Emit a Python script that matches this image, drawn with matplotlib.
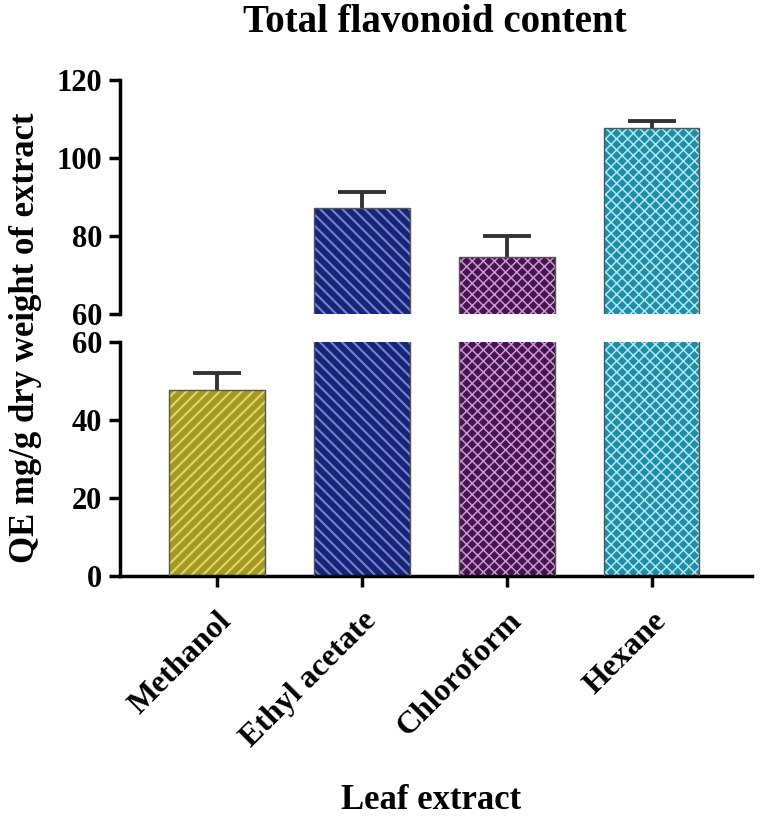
import matplotlib
matplotlib.use("Agg")
import matplotlib.pyplot as plt
import numpy as np

categories = ["Methanol", "Ethyl acetate", "Chloroform", "Hexane"]
values = [47.8, 87.2, 74.6, 107.6]
errors = [4.2, 4.1, 5.4, 1.9]

base_colors = ["#a49a1c", "#17247a", "#4a1254", "#1d8ea8"]
hatch_colors = ["#dcd67a", "#7484c8", "#c49ccc", "#b2e6ee"]
hatches = ["///", "\\\\\\", "xxx", "xxx"]
hatch_lws = [1.5, 1.5, 1.1, 1.1]

plt.rcParams['font.family'] = ['Liberation Serif', 'DejaVu Serif']
plt.rcParams['font.weight'] = 'bold'

fig = plt.figure(figsize=(7.6, 8.19), dpi=100)
left, width = 0.158, 0.831
ax_top = fig.add_axes([left, 0.6166, width, 0.2857])
ax_bot = fig.add_axes([left, 0.2967, width, 0.2857])

x = np.arange(len(categories))
bw = 0.66
for ax, (lo, hi), ticks in [(ax_top, (60, 120), [60, 80, 100, 120]),
                            (ax_bot, (0, 60), [0, 20, 40, 60])]:
    for i in range(len(categories)):
        with plt.rc_context({'hatch.linewidth': hatch_lws[i]}):
            ax.bar(x[i], values[i], width=bw, color=base_colors[i],
                   edgecolor=hatch_colors[i], hatch=hatches[i], linewidth=0, zorder=2)
        ax.bar(x[i], values[i], width=bw, fill=False, edgecolor="#555555",
               linewidth=1.0, zorder=3)
    eb = ax.errorbar(x, values, yerr=[np.zeros(len(values)), errors], fmt='none',
                     ecolor="#333333", elinewidth=2.8, capsize=17, capthick=2.8, zorder=1)
    caps = eb[1]
    if len(caps) > 1:
        caps[0].remove()
    ax.set_ylim(lo, hi)
    ax.set_xlim(-0.67, 3.69)
    ax.set_yticks(ticks)
    ax.tick_params(axis='y', direction='out', length=8, width=2.5, labelsize=22, pad=5)
    for s in ['top', 'right']:
        ax.spines[s].set_visible(False)
    ax.spines['left'].set_linewidth(2.5)
    ax.spines['bottom'].set_linewidth(2.5)

ax_top.spines['bottom'].set_visible(False)
ax_top.set_xticks([])
ax_bot.set_xticks(x)
ax_bot.set_xticklabels(categories, rotation=45, ha='right', rotation_mode='anchor',
                       fontsize=23, fontweight='bold')
ax_bot.tick_params(axis='x', direction='out', length=8, width=2.5, pad=14)

fig.text(0.572, 0.972, "Total flavonoid content", ha='center', va='center',
         fontsize=28, fontweight='bold')
fig.text(0.567, 0.022, "Leaf extract", ha='center', va='center',
         fontsize=25, fontweight='bold')
fig.text(0.033, 0.588, "QE mg/g dry weight of extract", ha='center', va='center',
         rotation=90, fontsize=25, fontweight='bold')

fig.savefig("out.png", dpi=100)
